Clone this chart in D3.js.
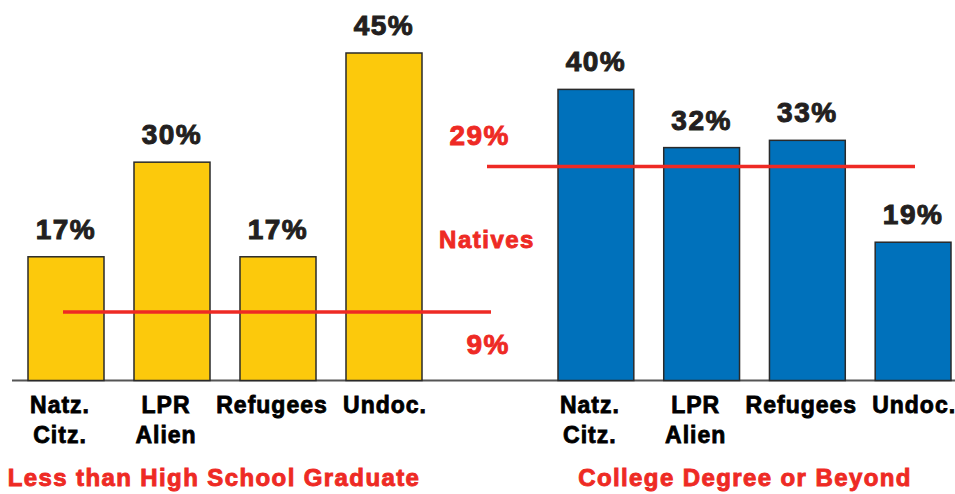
<!DOCTYPE html>
<html>
<head>
<meta charset="utf-8">
<script src="https://cdn.jsdelivr.net/npm/d3@7"></script>
<style>
    html, body { margin: 0; padding: 0; background: #fff; }
    svg { display: block; font-family: "Liberation Sans", Arial, sans-serif; font-weight: bold; }
</style>
</head>
<body>
<svg id="chart"></svg>
<script>
// categories + values
var categories = ["Natz.|Citz.", "LPR|Alien", "Refugees", "Undoc."];
var lessHighSchool = [17, 30, 17, 45];
var collegeDegree = [40, 32, 33, 19];
var nativesLess = 9;
var nativesCollege = 29;
var groupTitles = ["Less than High School Graduate", "College Degree or Beyond"];

var width = 955, height = 494;
var red = "#ee2a24";

var svg = d3.select("#chart")
    .attr("width", width)
    .attr("height", height);

var y = d3.scaleLinear().domain([0, 45]).range([380.5, 53]);

var groups = [
    {values: lessHighSchool, color: "#fcc90c", x: d3.scaleBand().domain(categories).range([28, 422]).paddingInner(0.283),
        title: groupTitles[0], titleX: 214, natives: nativesLess, lineX: [63, 491]},
    {values: collegeDegree, color: "#0071bb", x: d3.scaleBand().domain(categories).range([558, 951]).paddingInner(0.283),
        title: groupTitles[1], titleX: 745, natives: nativesCollege, lineX: [487, 915]}
];

// baseline
svg.append("line")
    .attr("x1", 12).attr("x2", width)
    .attr("y1", y(0)).attr("y2", y(0))
    .attr("stroke", "#555").attr("stroke-width", 2);

groups.forEach(function (g) {
    var data = categories.map(function (c, i) { return {cat: c, value: g.values[i]}; });

    svg.append("g").selectAll("rect")
        .data(data)
        .enter().append("rect")
        .attr("x", function (d) { return g.x(d.cat); })
        .attr("y", function (d) { return y(d.value); })
        .attr("width", g.x.bandwidth())
        .attr("height", function (d) { return y(0) - y(d.value); })
        .attr("fill", g.color)
        .attr("stroke", "#2a2a2a")
        .attr("stroke-width", 1.5);

    // value labels
    svg.append("g").selectAll("text")
        .data(data)
        .enter().append("text")
        .attr("x", function (d) { return g.x(d.cat) + g.x.bandwidth() / 2; })
        .attr("y", function (d) { return y(d.value) - 18; })
        .attr("text-anchor", "middle")
        .style("font-size", "28px")
        .style("letter-spacing", "1.5px")
        .attr("fill", "#231f20")
        .attr("stroke", "#231f20").attr("stroke-width", 1)
        .text(function (d) { return d.value + "%"; });

    // category labels, two lines
    var cat = svg.append("g").selectAll("text")
        .data(data)
        .enter().append("text")
        .attr("text-anchor", "middle")
        .style("font-size", "23px")
        .style("letter-spacing", "1px")
        .attr("fill", "#000")
        .attr("stroke", "#000").attr("stroke-width", 0.8)
        .attr("transform", function (d, i) {
            // last label sits flush on its bar in the original
            var dx = i == categories.length - 1 ? 1 : -6;
            return "translate(" + (g.x(d.cat) + g.x.bandwidth() / 2 + dx) + ",413)";
        });
    cat.selectAll("tspan")
        .data(function (d) { return d.cat.split("|"); })
        .enter().append("tspan")
        .attr("x", 0)
        .attr("y", function (d, i) { return i * 30; })
        .text(function (d) { return d; });

    // natives reference line
    svg.append("line")
        .attr("x1", g.lineX[0]).attr("x2", g.lineX[1])
        .attr("y1", y(g.natives) - 3).attr("y2", y(g.natives) - 3)
        .attr("stroke", red).attr("stroke-width", 3.5);

    // group title
    svg.append("text")
        .attr("x", g.titleX).attr("y", 486)
        .attr("text-anchor", "middle")
        .style("font-size", "24px")
        .style("letter-spacing", "1.4px")
        .attr("fill", red)
        .attr("stroke", red).attr("stroke-width", 0.9)
        .text(g.title);
});

// natives annotation in the middle
var mid = svg.append("g")
    .attr("fill", red)
    .attr("stroke", red).attr("stroke-width", 0.9);
mid.append("text")
    .attr("x", 510).attr("y", y(nativesCollege) - 24)
    .attr("text-anchor", "end")
    .style("font-size", "28px").style("letter-spacing", "1.5px")
    .text(nativesCollege + "%");
mid.append("text")
    .attr("x", 487).attr("y", 248)
    .attr("text-anchor", "middle")
    .style("font-size", "24px").style("letter-spacing", "1.5px")
    .text("Natives");
mid.append("text")
    .attr("x", 510).attr("y", y(nativesLess) + 39)
    .attr("text-anchor", "end")
    .style("font-size", "28px").style("letter-spacing", "1.5px")
    .text(nativesLess + "%");
</script>
</body>
</html>
